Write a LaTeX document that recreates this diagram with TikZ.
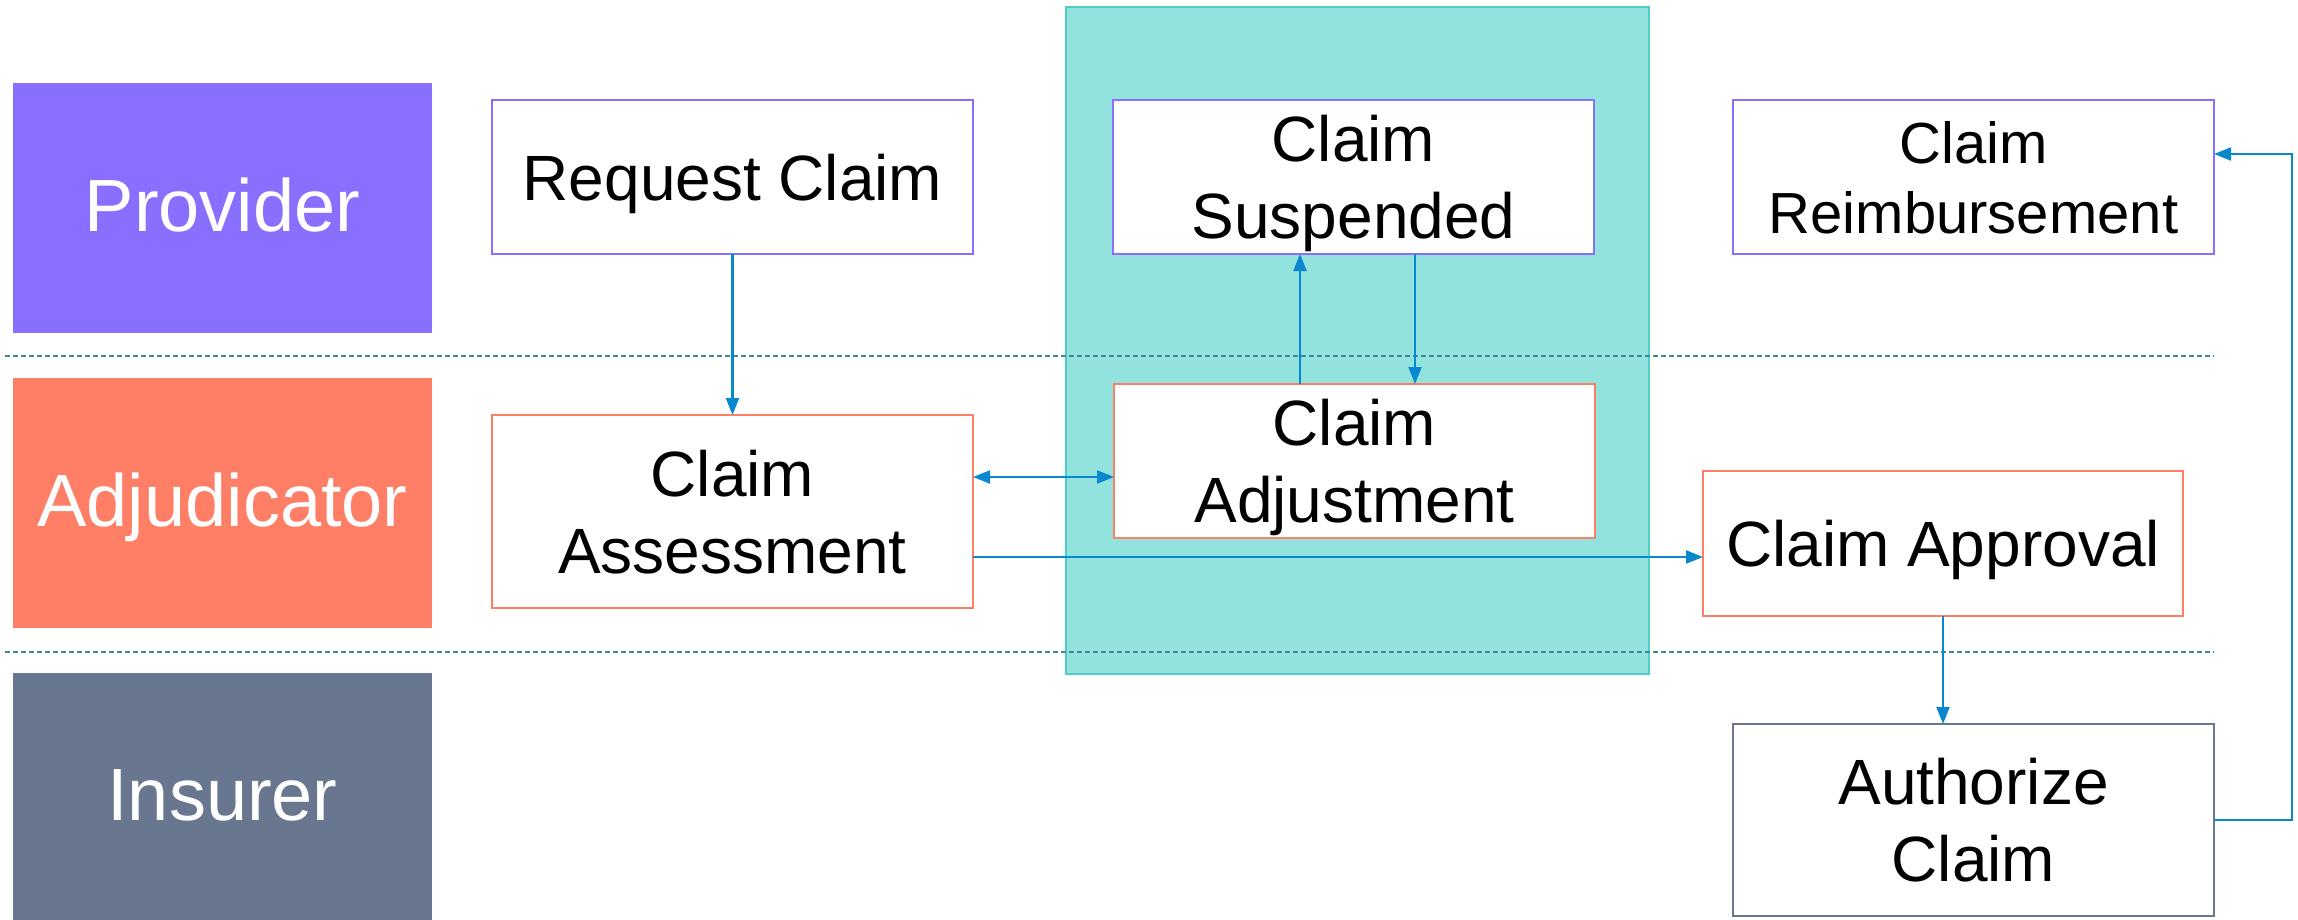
\documentclass[tikz,border=0pt]{standalone}
\usepackage{fontspec}
\setmainfont{Liberation Sans}
\usetikzlibrary{arrows.meta}
\definecolor{provc}{HTML}{8A6FFF}
\definecolor{adjc}{HTML}{FF7F66}
\definecolor{insc}{HTML}{68778F}
\definecolor{tealfill}{HTML}{92E2DE}
\definecolor{tealline}{HTML}{4FCFC7}
\definecolor{arrowc}{HTML}{0A88CF}
\definecolor{sepc}{HTML}{3F86A0}
\tikzset{
  lane/.style={rectangle, inner sep=0pt, outer sep=0pt, minimum width=419pt, text=white,
    font=\fontsize{74}{89}\selectfont, text height=47pt, text depth=0pt},
  procbox/.style={rectangle, draw, line width=2.5pt, fill=white, inner sep=0pt, outer sep=0pt,
    minimum width=481pt, align=center, font=\fontsize{64}{77}\selectfont, text depth=0pt},
  flow/.style={draw=arrowc, line width=2.2pt, -{Triangle[length=17pt,width=13pt]}},
  flowboth/.style={draw=arrowc, line width=2.2pt, {Triangle[length=17pt,width=13pt]}-{Triangle[length=17pt,width=13pt]}},
  sep/.style={draw=sepc, line width=2pt, dash pattern=on 5pt off 3pt},
}
\begin{document}
\begin{tikzpicture}[x=1pt,y=-1pt]
\useasboundingbox (0,0) rectangle (2298,920);
% highlighted zone
\node[rectangle, fill=tealfill, draw=tealline, line width=1.5pt, inner sep=0pt, outer sep=0pt,
  minimum width=583pt, minimum height=667pt] (zone) at (1357.5,340.5) {};
% lane separators
\coordinate (s1a) at (5,356); \coordinate (s1b) at (2214,356);
\coordinate (s2a) at (5,652); \coordinate (s2b) at (2214,652);
\draw[sep] (s1a) -- (s1b);
\draw[sep] (s2a) -- (s2b);
% lanes
\node[lane, fill=provc, minimum height=250pt] (prov) at (222.5,208) {Provider};
\node[lane, fill=adjc, minimum height=250pt] (adj) at (222.5,503) {Adjudicator};
\node[lane, fill=insc, minimum height=247pt] (ins) at (222.5,796.5) {Insurer};
% process boxes
\node[procbox, draw=provc, minimum height=154pt] (req) at (732.5,177) {Request Claim};
\node[procbox, draw=adjc, minimum height=193pt] (assess) at (732.5,511.5) {Claim\\Assessment};
\node[procbox, draw=provc, minimum height=154pt] (susp) at (1353.5,177) {Claim\\Suspended};
\node[procbox, draw=adjc, minimum height=154pt] (adjust) at (1354.5,461) {Claim\\Adjustment};
\node[procbox, draw=provc, minimum height=154pt, font=\fontsize{58}{70}\selectfont] (reimb) at (1973.5,177) {Claim\\Reimbursement};
\node[procbox, draw=adjc, minimum width=480pt, minimum height=145pt] (approv) at (1943,543.5) {Claim Approval};
\node[procbox, draw=insc, minimum height=192pt] (auth) at (1973.5,820) {Authorize\\Claim};
% connectors
\draw[flow] (req.south) -- (assess.north);
\draw[flowboth] (assess.east |- 0,477) -- (adjust.west |- 0,477);
\draw[flow] (assess.east |- 0,557) -- (approv.west |- 0,557);
\draw[flow] (adjust.north -| 1300,0) -- (susp.south -| 1300,0);
\draw[flow] (susp.south -| 1415,0) -- (adjust.north -| 1415,0);
\draw[flow] (approv.south) -- (approv.south |- auth.north);
\coordinate (rt) at (2292,820);
\draw[flow] (auth.east) -- (rt) -- (rt |- 0,154) -- (reimb.east |- 0,154);
\end{tikzpicture}
\end{document}
